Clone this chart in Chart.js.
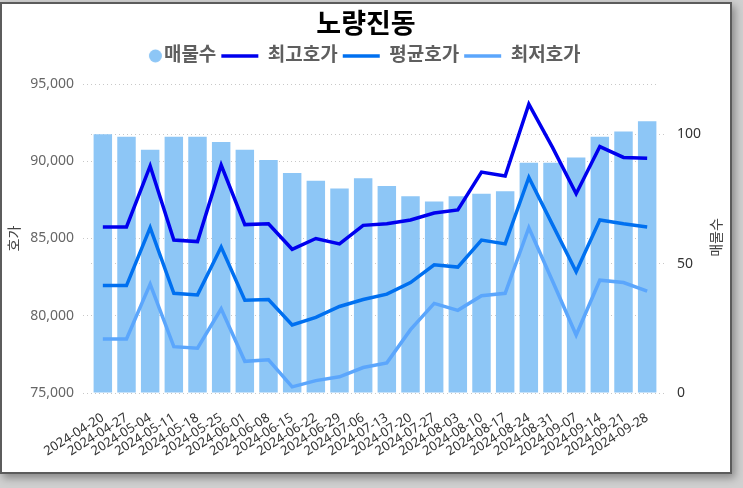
<!DOCTYPE html>
<html lang="ko">
<head>
<meta charset="utf-8">
<title>노량진동</title>
<script src="https://cdn.jsdelivr.net/npm/chart.js@4.4.1/dist/chart.umd.min.js"></script>
<style>
  html, body { margin: 0; padding: 0; }
  body { width: 743px; height: 488px; background: #d0d0d0; position: relative; overflow: hidden; }
  .frame { position: absolute; left: 0; top: 2px; width: 728px; height: 468px; border: 2px solid #5c5c5c; background: #fff; box-shadow: 3px 4px 8px rgba(0,0,0,0.35); }
  .frame canvas { display: block; }
</style>
</head>
<body>
<div class="frame"><canvas id="chart" width="728" height="468"></canvas></div>
<script>
const labels = [
  '2024-04-20', '2024-04-27', '2024-05-04', '2024-05-11', '2024-05-18', '2024-05-25',
  '2024-06-01', '2024-06-08', '2024-06-15', '2024-06-22', '2024-06-29', '2024-07-06',
  '2024-07-13', '2024-07-20', '2024-07-27', '2024-08-03', '2024-08-10', '2024-08-17',
  '2024-08-24', '2024-08-31', '2024-09-07', '2024-09-14', '2024-09-21', '2024-09-28'
];
// 매물수 (right axis)
const listings = [100, 99, 94, 99, 99, 97, 94, 90, 85, 82, 79, 83, 80, 76, 74, 76, 77, 78, 89, 89, 91, 99, 101, 105];
// 호가 (left axis)
const highPrice = [85750, 85750, 89700, 84900, 84800, 89750, 85900, 85950, 84300, 85000, 84650, 85850,
  85950, 86200, 86650, 86850, 89300, 89050, 93700, 90900, 87900, 90950, 90250, 90200];
const avgPrice = [81950, 81950, 85700, 81450, 81350, 84450, 81000, 81050, 79400, 79900, 80600, 81050,
  81400, 82150, 83300, 83150, 84900, 84650, 88950, 85900, 82850, 86200, 85950, 85750];
const lowPrice = [78500, 78500, 82050, 78000, 77900, 80450, 77050, 77150, 75400, 75800, 76050, 76650,
  76950, 79100, 80800, 80350, 81300, 81450, 85700, 82250, 78750, 82300, 82150, 81600];
const priceTicks = [75000, 95000, 5000];   // min, max, step
const countTicks = [0, 119.4, 50];

const FONT = "'Segoe UI', 'Noto Sans', 'Noto Sans CJK KR', sans-serif";
const BAR_COLOR = '#8dc6f6';
const GRID_COLOR = '#c8c8c8';

// legend marker for the bar series: a dot sitting close to its text
const dot = document.createElement('canvas');
dot.width = 60; dot.height = 14;
const dctx = dot.getContext('2d');
dctx.fillStyle = BAR_COLOR;
dctx.beginPath();
dctx.arc(49.5, 7, 6.5, 0, Math.PI * 2);
dctx.fill();

const lineSet = (label, data, color) => ({
  type: 'line',
  label: label,
  data: data,
  yAxisID: 'y',
  borderColor: color,
  backgroundColor: color,
  borderWidth: 3.5,
  pointRadius: 0,
  pointStyle: 'line',
  tension: 0,
  order: 0
});

const rightTitle = {
  id: 'rightTitle',
  afterDraw(chart) {
    const ctx = chart.ctx;
    const s = chart.scales.y1;
    const area = chart.chartArea;
    ctx.save();
    ctx.translate(s.right - 13, (area.top + area.bottom) / 2 - 1);
    ctx.rotate(-Math.PI / 2);
    ctx.font = '14px ' + FONT;
    ctx.fillStyle = '#444';
    ctx.textAlign = 'center';
    ctx.textBaseline = 'middle';
    ctx.fillText('매물수', 0, 0);
    ctx.restore();
  }
};

const legendShift = {
  id: 'legendShift',
  afterLayout(chart) {
    chart.legend.left -= 17;
    chart.legend.right -= 17;
  }
};

Chart.defaults.font.family = FONT;

new Chart(document.getElementById('chart'), {
  type: 'bar',
  data: {
    labels: labels,
    datasets: [
      {
        type: 'bar',
        label: '매물수',
        data: listings,
        yAxisID: 'y1',
        backgroundColor: BAR_COLOR,
        barPercentage: 0.78,
        categoryPercentage: 1,
        pointStyle: dot,
        order: 1
      },
      lineSet('최고호가', highPrice, '#0000ee'),
      lineSet('평균호가', avgPrice, '#0070f0'),
      lineSet('최저호가', lowPrice, '#5ba6fc')
    ]
  },
  options: {
    responsive: false,
    animation: false,
    locale: 'en-US',
    layout: { padding: 0 },
    plugins: {
      title: {
        display: true,
        text: '노량진동',
        color: '#000',
        font: { size: 27, weight: 'bold' },
        padding: { top: 5, bottom: 0 }
      },
      subtitle: {
        display: true,
        text: '',
        weight: 500,
        font: { size: 1 },
        padding: { top: 0, bottom: 7.4 }
      },
      legend: {
        display: true,
        labels: {
          usePointStyle: true,
          pointStyleWidth: 37,
          padding: 5,
          color: '#5f5f5f',
          font: { size: 19, weight: 'bold' },
          sort: (a, b) => a.datasetIndex - b.datasetIndex
        }
      },
      tooltip: { enabled: false }
    },
    scales: {
      x: {
        offset: true,
        grid: { display: false },
        border: { display: false },
        ticks: {
          autoSkip: false,
          minRotation: 32,
          maxRotation: 32,
          padding: 9,
          color: '#333',
          font: { size: 13 }
        },
        afterFit(s) { s.height = 79; }
      },
      y: {
        position: 'left',
        min: priceTicks[0],
        max: priceTicks[1],
        ticks: { stepSize: priceTicks[2], padding: 9, color: '#666', font: { size: 14 } },
        grid: { color: GRID_COLOR, tickLength: 8, tickColor: GRID_COLOR, tickBorderDash: [1, 3] },
        border: { display: false, dash: [1, 3] },
        title: {
          display: true,
          text: '호가',
          color: '#444',
          font: { size: 14 },
          padding: { top: 5, bottom: 0 }
        },
        afterFit(s) { s.width = 89; }
      },
      y1: {
        position: 'right',
        min: countTicks[0],
        max: countTicks[1],
        bounds: 'data',
        ticks: { stepSize: countTicks[2], includeBounds: false, padding: 10, color: '#333', font: { size: 14 } },
        grid: { color: GRID_COLOR, tickLength: 8, tickColor: GRID_COLOR, tickBorderDash: [1, 3] },
        border: { display: false, dash: [1, 3] },
        afterFit(s) { s.width = 71; }
      }
    }
  },
  plugins: [rightTitle, legendShift]
});
</script>
</body>
</html>
